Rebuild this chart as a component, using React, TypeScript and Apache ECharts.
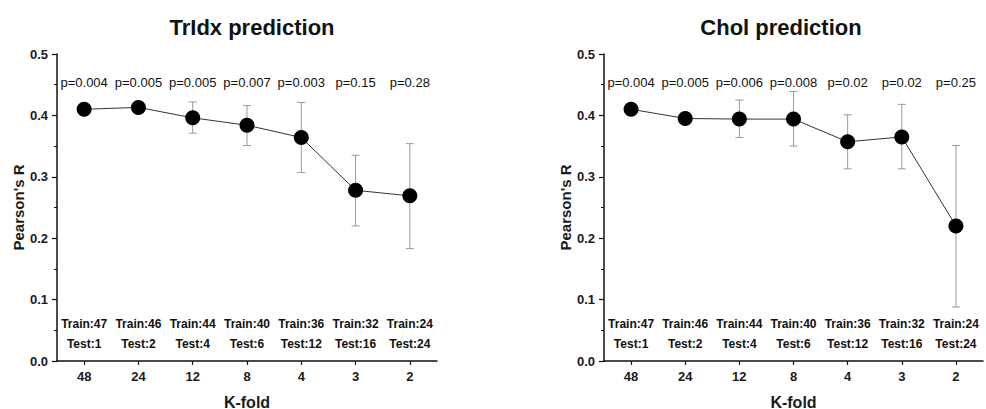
import React, { useEffect, useRef } from "react";
import * as echarts from "echarts";

const kFolds = ["48", "24", "12", "8", "4", "3", "2"];
const trainLabels = ["Train:47", "Train:46", "Train:44", "Train:40", "Train:36", "Train:32", "Train:24"];
const testLabels = ["Test:1", "Test:2", "Test:4", "Test:6", "Test:12", "Test:16", "Test:24"];

const tridxR = [0.41, 0.413, 0.396, 0.384, 0.364, 0.278, 0.269];
const tridxLow = [null, null, 0.371, 0.351, 0.307, 0.22, 0.183];
const tridxHigh = [null, null, 0.422, 0.416, 0.421, 0.335, 0.354];
const tridxP = ["p=0.004", "p=0.005", "p=0.005", "p=0.007", "p=0.003", "p=0.15", "p=0.28"];

const cholR = [0.41, 0.395, 0.394, 0.394, 0.357, 0.365, 0.22];
const cholLow = [null, null, 0.364, 0.35, 0.313, 0.313, 0.088];
const cholHigh = [null, null, 0.425, 0.439, 0.401, 0.418, 0.351];
const cholP = ["p=0.004", "p=0.005", "p=0.006", "p=0.008", "p=0.02", "p=0.02", "p=0.25"];

const pLevel = 0.453;
const trainLevel = 0.06;
const testLevel = 0.028;

const FONT = "Arial, 'Liberation Sans', sans-serif";

function errorSeries(idx: number, low: (number | null)[], high: (number | null)[]) {
  const data = low
    .map((l, i) => (l == null || high[i] == null ? null : [i, l, high[i]]))
    .filter((d) => d != null);
  return {
    type: "custom",
    xAxisIndex: idx,
    yAxisIndex: idx,
    z: 1,
    data,
    encode: { x: 0, y: [1, 2] },
    renderItem: (params: any, api: any) => {
      const x = api.value(0);
      const lo = api.coord([x, api.value(1)]);
      const hi = api.coord([x, api.value(2)]);
      const cap = 4;
      const style = { stroke: "#9a9a9a", lineWidth: 1 };
      return {
        type: "group",
        children: [
          { type: "line", shape: { x1: lo[0], y1: lo[1], x2: hi[0], y2: hi[1] }, style },
          { type: "line", shape: { x1: lo[0] - cap, y1: lo[1], x2: lo[0] + cap, y2: lo[1] }, style },
          { type: "line", shape: { x1: hi[0] - cap, y1: hi[1], x2: hi[0] + cap, y2: hi[1] }, style },
        ],
      };
    },
  };
}

function textSeries(idx: number, texts: string[], level: number, bold: boolean, size: number) {
  return {
    type: "custom",
    xAxisIndex: idx,
    yAxisIndex: idx,
    z: 3,
    data: texts.map((_, i) => [i, level]),
    renderItem: (params: any, api: any) => {
      const p = api.coord([api.value(0), api.value(1)]);
      return {
        type: "text",
        x: p[0],
        y: p[1],
        style: {
          text: texts[params.dataIndex],
          textAlign: "center",
          textVerticalAlign: "middle",
          font: `${bold ? "bold " : ""}${size}px ${FONT}`,
          fill: "#111",
        },
      };
    },
  };
}

function lineSeries(idx: number, values: number[]) {
  return {
    type: "line",
    xAxisIndex: idx,
    yAxisIndex: idx,
    z: 2,
    data: values,
    symbol: "circle",
    symbolSize: 15,
    itemStyle: { color: "#000" },
    lineStyle: { color: "#333", width: 1 },
  };
}

function xAxis(idx: number) {
  return {
    type: "category",
    gridIndex: idx,
    data: kFolds,
    boundaryGap: true,
    axisLine: { show: true, lineStyle: { color: "#111", width: 1.5 } },
    axisTick: { show: true, alignWithLabel: true, length: 4, lineStyle: { color: "#111", width: 1.2 } },
    axisLabel: { color: "#1a1a1a", fontWeight: "bold", fontSize: 13, fontFamily: FONT, margin: 9 },
    name: "K-fold",
    nameLocation: "middle",
    nameGap: 33,
    nameTextStyle: { color: "#1a1a1a", fontWeight: "bold", fontSize: 16, fontFamily: FONT },
    splitLine: { show: false },
  };
}

function yAxis(idx: number) {
  return {
    type: "value",
    gridIndex: idx,
    min: 0,
    max: 0.5,
    interval: 0.1,
    axisLine: { show: true, lineStyle: { color: "#111", width: 1.5 } },
    axisTick: { show: true, length: 5, lineStyle: { color: "#111", width: 1.2 } },
    minorTick: { show: true, splitNumber: 2, length: 3, lineStyle: { color: "#111", width: 1 } },
    axisLabel: {
      color: "#1a1a1a",
      fontWeight: "bold",
      fontSize: 13,
      fontFamily: FONT,
      margin: 9,
      formatter: (v: number) => v.toFixed(1),
    },
    name: "Pearson's R",
    nameLocation: "middle",
    nameGap: 31,
    nameTextStyle: { color: "#1a1a1a", fontWeight: "bold", fontSize: 15, fontFamily: FONT },
    splitLine: { show: false },
  };
}

export default function App() {
  const ref = useRef<HTMLDivElement>(null);
  useEffect(() => {
    if (!ref.current) return;
    const chart = echarts.init(ref.current, null, { renderer: "svg" });
    chart.setOption({
      animation: false,
      backgroundColor: "#fff",
      title: [
        {
          text: "TrIdx prediction",
          left: 247,
          top: 11,
          textAlign: "center",
          textStyle: { fontSize: 22, fontWeight: "bold", fontFamily: FONT, color: "#111" },
        },
        {
          text: "Chol prediction",
          left: 776,
          top: 11,
          textAlign: "center",
          textStyle: { fontSize: 22, fontWeight: "bold", fontFamily: FONT, color: "#111" },
        },
      ],
      grid: [
        { left: 57, top: 54, width: 380, height: 307, outerBoundsMode: "none", containLabel: false },
        { left: 604, top: 54, width: 379, height: 307, outerBoundsMode: "none", containLabel: false },
      ],
      xAxis: [xAxis(0), xAxis(1)],
      yAxis: [yAxis(0), yAxis(1)],
      series: [
        errorSeries(0, tridxLow, tridxHigh),
        lineSeries(0, tridxR),
        textSeries(0, tridxP, pLevel, false, 13),
        textSeries(0, trainLabels, trainLevel, true, 12),
        textSeries(0, testLabels, testLevel, true, 12),
        errorSeries(1, cholLow, cholHigh),
        lineSeries(1, cholR),
        textSeries(1, cholP, pLevel, false, 13),
        textSeries(1, trainLabels, trainLevel, true, 12),
        textSeries(1, testLabels, testLevel, true, 12),
      ],
    });
    return () => chart.dispose();
  }, []);
  return <div ref={ref} style={{ width: 986, height: 409, position: "absolute", left: 0, top: 0 }} />;
}
